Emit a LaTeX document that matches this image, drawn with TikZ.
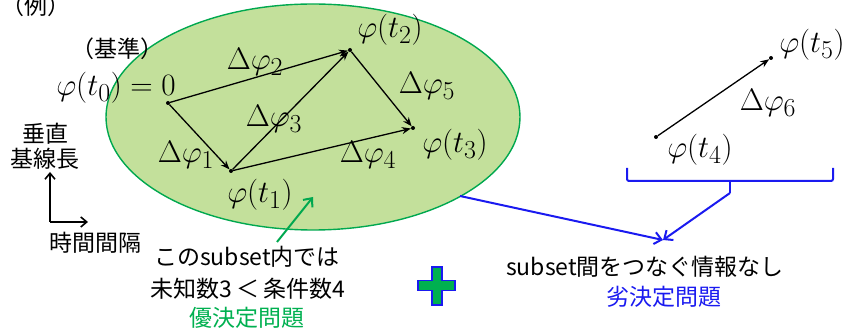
\documentclass[tikz,border=0pt]{standalone}
\usepackage{fontspec}
\newfontfamily\jp{Noto Sans CJK JP}
\usetikzlibrary{arrows.meta}
\definecolor{fillg}{HTML}{C3E09B}
\definecolor{lineg}{HTML}{00A84F}
\definecolor{txtg}{HTML}{00B050}
\definecolor{myblue}{HTML}{1A1AF0}
\begin{document}
\begin{tikzpicture}[x=1pt,y=-1pt,
  jptext/.style={font=\jp\fontsize{23}{27}\selectfont, inner sep=0pt},
  mlabel/.style={font=\fontsize{24.88}{30}\selectfont, inner sep=0pt, scale=1.25, transform shape},
  dotpt/.style={circle, fill=black, inner sep=0pt, minimum size=4pt},
  vec/.style={-{Stealth[length=9pt,width=7pt]}, line width=1.3pt},
  bluearrow/.style={myblue, line width=2pt, -{Straight Barb[length=7pt,width=12pt]}},
  axisarrow/.style={line width=1.6pt, -{Straight Barb[length=6pt,width=10pt]}}
]
\useasboundingbox (0,0) rectangle (851,336);
% ellipse (subset)
\draw[lineg, fill=fillg, line width=1.4pt] (313,117) ellipse [x radius=207pt, y radius=113pt];
\coordinate (e1) at (460,196);

% points
\node[dotpt] (t0) at (168,103) {};
\node[dotpt] (t1) at (231,171) {};
\node[dotpt] (t2) at (350,50) {};
\node[dotpt] (t3) at (413,128) {};
\node[dotpt] (t4) at (656,137) {};
\node[dotpt] (t5) at (771,58) {};

\draw[vec] (t0) -- (t2);
\draw[vec] (t0) -- (t1);
\draw[vec] (t1) -- (t2);
\draw[vec] (t1) -- (t3);
\draw[vec] (t2) -- (t3);
\draw[vec] (t4) -- (t5);

% labels
\node[jptext] (ex) at (36,6) {（例）};
\node[jptext] (kijun) at (117,49) {（基準）};
\node[mlabel] (p0) at (116,88) {$\varphi(t_0)=0$};
\node[mlabel] (p1) at (260,195) {$\varphi(t_1)$};
\node[mlabel] (p2) at (390,30) {$\varphi(t_2)$};
\node[mlabel] (p3) at (455,145) {$\varphi(t_3)$};
\node[mlabel] (p4) at (700,150) {$\varphi(t_4)$};
\node[mlabel] (p5) at (812,45) {$\varphi(t_5)$};
\node[mlabel] (d1) at (186,155) {$\Delta\varphi_1$};
\node[mlabel] (d2) at (255,62) {$\Delta\varphi_2$};
\node[mlabel] (d3) at (274,119) {$\Delta\varphi_3$};
\node[mlabel] (d4) at (368,155) {$\Delta\varphi_4$};
\node[mlabel] (d5) at (427,86) {$\Delta\varphi_5$};
\node[mlabel] (d6) at (768,103) {$\Delta\varphi_6$};

% axes
\node[jptext] (sui) at (45,134) {垂直};
\node[jptext] (kisen) at (45,159) {基線長};
\coordinate (ax) at (50,222);
\coordinate (axv) at (50,172);
\coordinate (axh) at (88,222);
\draw[axisarrow] (ax) -- (axv);
\draw[axisarrow] (ax) -- (axh);
\node[jptext] (jikan) at (95,243) {時間間隔};

% left texts
\node[jptext] (l1) at (247,257) {このsubset内では};
\node[jptext] (l2) at (248,289) {未知数3\,＜\,条件数4};
\node[jptext, text=txtg] (l3) at (247,318) {優決定問題};
\coordinate (ga) at (277,242);
\coordinate (gb) at (313,197);
\draw[lineg, line width=2pt, -{Straight Barb[length=7pt,width=12pt]}] (ga) -- (gb);

% bracket and blue arrows
\draw[myblue, line width=2pt, rounded corners=2pt] (627,168) -- (627,181) -- (833,181) -- (833,168);
\coordinate (bm) at (730,181);
\coordinate (bt) at (730,193);
\draw[myblue, line width=2pt] (bm) -- (bt);
\coordinate (goal) at (663,240);
\draw[bluearrow] (e1) -- (goal);
\draw[bluearrow] (bt) -- (goal);

% right texts
\node[jptext] (r1) at (645,267) {subset間をつなぐ情報なし};
\node[jptext, text=myblue] (r2) at (664,297) {劣決定問題};

% plus sign
\draw[myblue, fill=txtg, line width=1.5pt]
  (432,267) -- (442,267) -- (442,280.5) -- (455,280.5) -- (455,290.5) -- (442,290.5)
  -- (442,305) -- (432,305) -- (432,290.5) -- (418,290.5) -- (418,280.5) -- (432,280.5) -- cycle;
\end{tikzpicture}
\end{document}
